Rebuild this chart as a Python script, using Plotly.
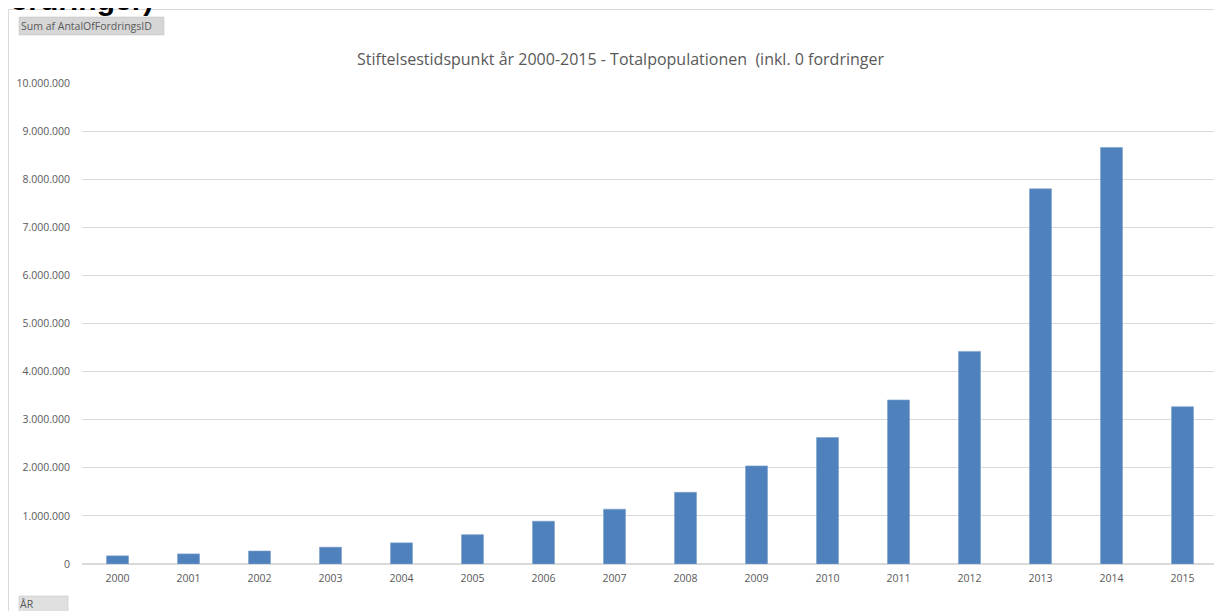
import plotly.graph_objects as go

years = [str(y) for y in range(2000, 2016)]
values = [170000, 210000, 270000, 350000, 440000, 610000, 890000, 1140000,
          1490000, 2040000, 2630000, 3410000, 4420000, 7800000, 8660000, 3270000]
y_ticks = list(range(0, 10000001, 1000000))

title_text = "Stiftelsestidspunkt år 2000-2015 - Totalpopulationen  (inkl. 0 fordringer"
field_button = "Sum af AntalOfFordringsID"
axis_button = "ÅR"
cut_heading = "fordringer)"

# screen geometry (page has an 8px body margin)
OFF = 8
W, H = 1222, 611
PL, PR, PT, PB = 82, 1218, 83, 564
L, T = PL - OFF, PT - OFF
R = (W + OFF) - PR
B = (H + OFF) - PB
ph = PB - PT
pw = PR - PL

def px(x):
    return (x - PL) / pw

def py(y):
    return 1 + (PT - y) / ph

fig = go.Figure(go.Bar(
    x=years, y=values,
    marker=dict(color="#4f81bd", line=dict(color="#7fa1cc", width=0.6)),
    hoverinfo="x+y",
))

fig.update_layout(
    width=W, height=H,
    margin=dict(l=L, r=R, t=T, b=B, autoexpand=False),
    paper_bgcolor="white", plot_bgcolor="white",
    separators=",.",
    bargap=0.69,
    showlegend=False,
    font=dict(family="Open Sans, Liberation Sans, sans-serif", color="#595959", size=10),
    xaxis=dict(
        type="category", range=[-0.5, 15.5], showgrid=False, showline=False,
        zeroline=False, ticks="", tickfont=dict(size=10.5, color="#595959"),
        ticklabelstandoff=6, fixedrange=True, automargin=False,
    ),
    yaxis=dict(
        range=[0, 10000000], tickvals=y_ticks, tickformat=",.0f",
        showgrid=True, gridcolor="#d9d9d9", gridwidth=1,
        zeroline=True, zerolinecolor="#d9d9d9", zerolinewidth=1.5,
        showline=False, ticks="", ticklabelstandoff=11,
        tickfont=dict(size=10.5, color="#595959"), fixedrange=True, automargin=False,
    ),
    shapes=[
        # outer chart border
        dict(type="rect", xref="paper", yref="paper",
             x0=px(8.5), x1=px(1240), y0=py(640), y1=py(9.5),
             line=dict(color="#d9d9d9", width=1), fillcolor="rgba(0,0,0,0)", layer="below"),
        # field buttons
        dict(type="rect", xref="paper", yref="paper",
             x0=px(19), x1=px(164), y0=py(35), y1=py(17),
             line=dict(color="#bfbfbf", width=0.5), fillcolor="#d6d6d6"),
        dict(type="rect", xref="paper", yref="paper",
             x0=px(19), x1=px(68), y0=py(625), y1=py(596),
             line=dict(color="#bfbfbf", width=0.5), fillcolor="#e0e0e0"),
    ],
    annotations=[
        dict(text=title_text, xref="paper", yref="paper", x=px(620), y=py(59),
             xanchor="center", yanchor="middle", showarrow=False,
             font=dict(size=16, color="#595959")),
        dict(text=field_button, xref="paper", yref="paper", x=px(19), y=py(26),
             xanchor="left", yanchor="middle", showarrow=False,
             font=dict(size=10.5, color="#595959")),
        dict(text=axis_button, xref="paper", yref="paper", x=px(18), y=py(604),
             xanchor="left", yanchor="middle", showarrow=False,
             font=dict(size=10.5, color="#595959")),
        dict(text="<b>" + cut_heading + "</b>", xref="paper", yref="paper",
             x=px(-2), y=py(-1), xanchor="left", yanchor="middle", showarrow=False,
             font=dict(size=30, color="black", family="Liberation Sans, Arial, sans-serif")),
    ],
)

fig.write_html("out.html", config={"displayModeBar": False})
